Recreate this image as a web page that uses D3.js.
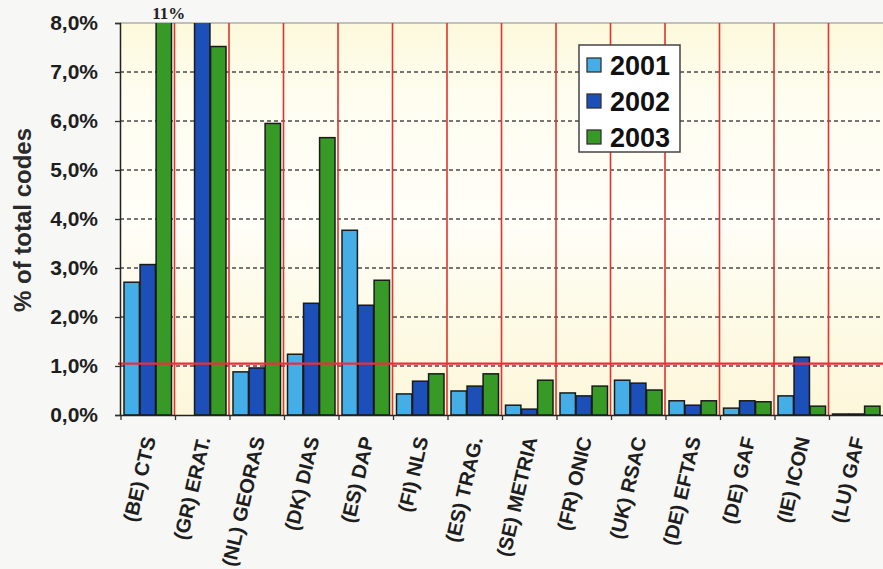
<!DOCTYPE html>
<html><head><meta charset="utf-8">
<script src="https://cdn.jsdelivr.net/npm/d3@7"></script>
<style>
html,body{margin:0;padding:0;background:#f7f7f5;}
svg{display:block;}
</style></head>
<body>
<svg id="chart" width="883" height="569"></svg>
<script>
const categories = ["(BE) CTS","(GR) ERAT.","(NL) GEORAS","(DK) DIAS","(ES) DAP","(FI) NLS","(ES) TRAG.","(SE) METRIA","(FR) ONIC","(UK) RSAC","(DE) EFTAS","(DE) GAF","(IE) ICON","(LU) GAF"];
const series = ["2001","2002","2003"];
const v2001 = [2.71, 0, 0.88, 1.24, 3.77, 0.43, 0.49, 0.20, 0.45, 0.71, 0.29, 0.14, 0.39, 0.02];
const v2002 = [3.07, 8.3, 0.96, 2.28, 2.24, 0.69, 0.59, 0.12, 0.39, 0.65, 0.20, 0.29, 1.18, 0.02];
const v2003 = [11.0, 7.52, 5.95, 5.66, 2.75, 0.84, 0.84, 0.71, 0.59, 0.51, 0.29, 0.27, 0.18, 0.18];
const yTicks = [0,1,2,3,4,5,6,7,8];
const threshold = 1.05;
const overflowLabel = "11%";
const colors = {"2001":"#46aee6","2002":"#1c4fb8","2003":"#379a26"};

const svg = d3.select("#chart");
const m = {left:120, right:0, top:23, bottom:154};
const W = 883, H = 569;
const x = d3.scaleBand().domain(categories).range([m.left, W]).paddingInner(0).paddingOuter(0);
const xs = d3.scaleBand().domain(series).range([4, x.bandwidth()-3]).paddingInner(0.04);
const y = d3.scaleLinear().domain([0,8]).range([H-m.bottom, m.top]);

const defs = svg.append("defs");
const g = defs.append("linearGradient").attr("id","bg").attr("x1",0).attr("y1",0).attr("x2",0).attr("y2",1);
g.append("stop").attr("offset","0%").attr("stop-color","#fcf9dc");
g.append("stop").attr("offset","20%").attr("stop-color","#fffdf0");
g.append("stop").attr("offset","50%").attr("stop-color","#fffef8");
g.append("stop").attr("offset","75%").attr("stop-color","#fdfae6");
g.append("stop").attr("offset","100%").attr("stop-color","#fcf7da");
defs.append("clipPath").attr("id","clip").append("rect")
  .attr("x",m.left).attr("y",y(8)).attr("width",W-m.left).attr("height",y(0)-y(8));

svg.append("rect").attr("x",m.left).attr("y",y(8)).attr("width",W-m.left).attr("height",y(0)-y(8)).attr("fill","url(#bg)");

// gridlines
svg.append("g").selectAll("line").data(yTicks.filter(d=>d>0)).join("line")
  .attr("x1",m.left).attr("x2",W).attr("y1",d=>y(d)).attr("y2",d=>y(d))
  .attr("stroke",d=>d===8?"#8a8a8a":"#4a4a4a").attr("stroke-width",d=>d===8?1.2:1.6)
  .attr("stroke-dasharray",d=>d===8?null:"4,3");

// red category separators
svg.append("g").selectAll("line").data(categories.slice(1)).join("line")
  .attr("x1",d=>x(d)).attr("x2",d=>x(d)).attr("y1",y(8)).attr("y2",y(0))
  .attr("stroke","#e0342e").attr("stroke-width",1.6);

// bars
const data = [];
categories.forEach((c,i)=>{
  data.push({c, s:"2001", v:v2001[i]});
  data.push({c, s:"2002", v:v2002[i]});
  data.push({c, s:"2003", v:v2003[i]});
});
svg.append("g").attr("clip-path","url(#clip)").selectAll("rect").data(data.filter(d=>d.v>0)).join("rect")
  .attr("x",d=>x(d.c)+xs(d.s)).attr("width",xs.bandwidth())
  .attr("y",d=>y(Math.min(d.v,8.3))).attr("height",d=>y(0)-y(Math.min(d.v,8.3)))
  .attr("fill",d=>colors[d.s]).attr("stroke","#1a1a1a").attr("stroke-width",1.5);

// threshold line
svg.append("line").attr("x1",m.left-2).attr("x2",W).attr("y1",y(threshold)).attr("y2",y(threshold))
  .attr("stroke","#e8303a").attr("stroke-width",2.2);

// axes
const yAxis = svg.append("g").attr("transform",`translate(${m.left},0)`)
  .call(d3.axisLeft(y).tickValues(yTicks).tickSize(5).tickPadding(17).tickFormat(d=>d3.format(".1f")(d).replace(".",",")+"%"));
yAxis.select(".domain").attr("stroke","#222").attr("stroke-width",1.5);
yAxis.selectAll(".tick line").attr("stroke","#333").attr("stroke-width",1.3);
yAxis.selectAll("text").attr("font-family","Liberation Sans, Arial, sans-serif").attr("font-weight","bold").attr("font-size",21).attr("fill","#1e1e1e");

const xAxis = svg.append("g").attr("transform",`translate(0,${y(0)})`)
  .call(d3.axisBottom(x).tickSize(0).tickFormat(""));
xAxis.select(".domain").attr("stroke","#222").attr("stroke-width",1.5);
svg.append("g").selectAll("line").data(categories).join("line")
  .attr("x1",d=>x(d)+1).attr("x2",d=>x(d)+1).attr("y1",y(0)).attr("y2",y(0)+5)
  .attr("stroke","#333").attr("stroke-width",1.3);

svg.append("g").selectAll("text").data(categories).join("text")
  .attr("transform",d=>`translate(${x(d)+x.bandwidth()/2+2},${y(0)+22}) rotate(-77)`)
  .attr("text-anchor","end").attr("dy","0.35em")
  .attr("font-family","Liberation Sans, Arial, sans-serif").attr("font-weight","bold").attr("font-size",20).attr("fill","#1e1e1e")
  .text(d=>d);

// overflow label
svg.append("text").attr("x",x(categories[0])+xs("2003")+xs.bandwidth()/2+5).attr("y",y(8)-4)
  .attr("text-anchor","middle").attr("font-family","Liberation Serif, Times New Roman, serif").attr("font-weight","bold").attr("font-size",17).attr("fill","#222")
  .text(overflowLabel);

// y title
svg.append("text").attr("transform",`translate(31,${(y(0)+y(8))/2+1}) rotate(-90)`)
  .attr("text-anchor","middle").attr("font-family","Liberation Sans, Arial, sans-serif").attr("font-weight","bold").attr("font-size",24).attr("fill","#2a2a2a")
  .text("% of total codes");

// legend
const lg = svg.append("g").attr("transform","translate(579,45)");
lg.append("rect").attr("width",101).attr("height",107).attr("fill","#fff").attr("stroke","#444").attr("stroke-width",1.5);
series.forEach((s,i)=>{
  const yy = 20 + i*36;
  lg.append("rect").attr("x",8).attr("y",yy-7).attr("width",14).attr("height",14).attr("fill",colors[s]).attr("stroke","#333").attr("stroke-width",1.3);
  lg.append("text").attr("x",31).attr("y",yy).attr("dy","0.36em")
    .attr("font-family","Liberation Sans, Arial, sans-serif").attr("font-weight","bold").attr("font-size",27).attr("fill","#111").text(s);
});
</script>
</body></html>
